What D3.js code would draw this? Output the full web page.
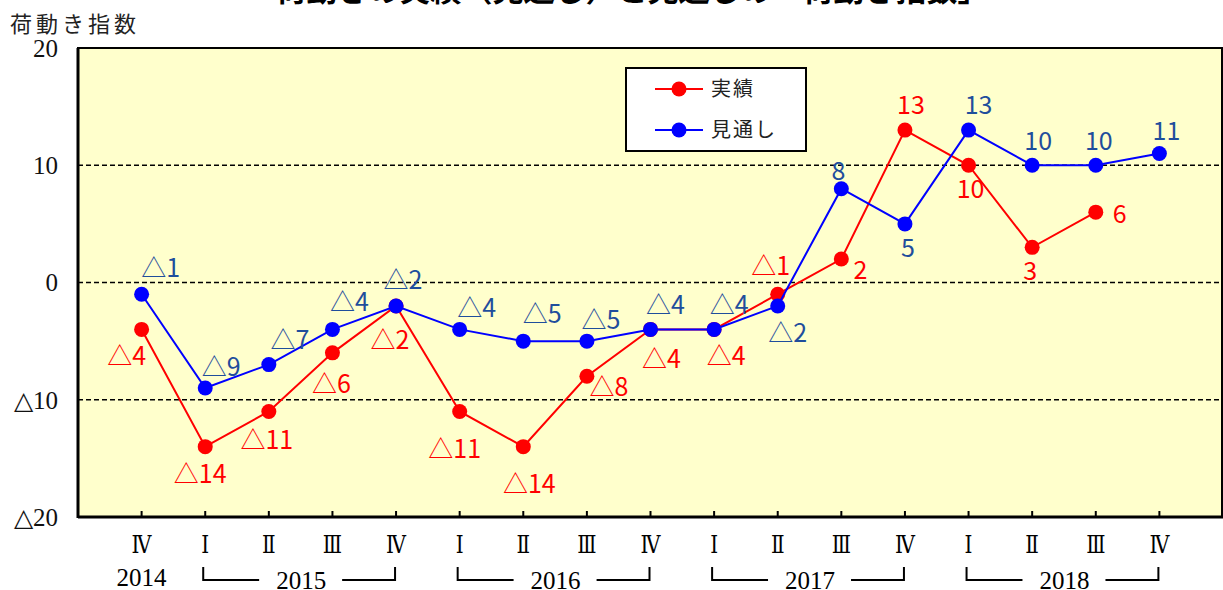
<!DOCTYPE html>
<html><head><meta charset="utf-8">
<script src="https://cdn.jsdelivr.net/npm/d3@7"></script>
<style>body{margin:0;background:#fff}svg{display:block}</style>
</head><body>
<svg id="c" width="1223" height="590"></svg>
<script>
const title = "荷動きの実績（見通し）と見通しの「荷動き指数」";
const yTitle = "荷動き指数";
const quarters = ["Ⅳ","Ⅰ","Ⅱ","Ⅲ","Ⅳ","Ⅰ","Ⅱ","Ⅲ","Ⅳ","Ⅰ","Ⅱ","Ⅲ","Ⅳ","Ⅰ","Ⅱ","Ⅲ","Ⅳ"];
const years = ["2014","2015","2016","2017","2018"];
const actual = [-4,-14,-11,-6,-2,-11,-14,-8,-4,-4,-1,2,13,10,3,6,null];
const outlook = [-1,-9,-7,-4,-2,-4,-5,-5,-4,-4,-2,8,5,13,10,10,11];
const yTicks = [20,10,0,-10,-20];
const seriesNames = ["実績","見通し"];

// layout: label offsets (px) relative to the point
const actOff = [[-15,27],[-5,27],[-2,29],[-1,31],[-6,34],[-5,38],[6,37],[22,11],[11,30],[12,27],[-7,-28],[19,11],[6,-25],[2,24],[-2,24],[24,2]];
const outOff = [[19,-26],[16,-21],[21,-25],[17,-27],[7,-26],[17,-21],[19,-27],[14,-21],[15,-24],[15,-24],[10,27],[-3,-18],[3,24],[10,-25],[6,-24],[3,-24],[7,-23]];

const svg = d3.select("#c");
const L = 78, R = 1223, T = 48, B = 517;
const idx = d3.range(quarters.length);
const x = d3.scalePoint().domain(idx).range([L, R]).padding(1);
const y = d3.scaleLinear().domain([-20, 20]).range([B, T]);
const fmt = v => v < 0 ? "△" + Math.abs(v) : String(v);
const serif = "'Liberation Serif','DejaVu Serif',serif";

svg.append("rect").attr("x", L).attr("y", T).attr("width", R - L).attr("height", B - T).attr("fill", "#ffffcc");

// gridlines
svg.append("g").selectAll("line").data([10, 0, -10]).join("line")
  .attr("x1", L).attr("x2", R).attr("y1", d => y(d)).attr("y2", d => y(d))
  .attr("stroke", "#000").attr("stroke-width", 1.6).attr("stroke-dasharray", "5,3");

// frame
svg.append("rect").attr("x", L).attr("y", T).attr("width", R - L - 1).attr("height", B - T)
  .attr("fill", "none").attr("stroke", "#000").attr("stroke-width", 2);
svg.append("line").attr("x1", L).attr("x2", L).attr("y1", T).attr("y2", B + 1).attr("stroke", "#000").attr("stroke-width", 3);
svg.append("line").attr("x1", L).attr("x2", R).attr("y1", B).attr("y2", B).attr("stroke", "#000").attr("stroke-width", 3);

// x ticks (inward)
svg.append("g").selectAll("line").data(idx).join("line")
  .attr("x1", d => x(d)).attr("x2", d => x(d)).attr("y1", B).attr("y2", B - 6)
  .attr("stroke", "#000").attr("stroke-width", 2);

// y tick labels
const yt = svg.append("g").selectAll("text").data(yTicks).join("text")
  .attr("x", 58).attr("y", d => y(d)).attr("dy", "0.35em").attr("text-anchor", "end")
  .attr("font-family", serif).attr("font-size", 25).attr("fill", "#111");
yt.append("tspan").attr("font-family", "'DejaVu Sans',sans-serif").attr("font-weight", 200).attr("font-size", 25)
  .text(d => d < 0 ? "△" : "");
yt.append("tspan").text(d => String(Math.abs(d)));

// y title
svg.append("text").attr("x", 10).attr("y", 32).attr("font-family", "'Noto Sans CJK JP',sans-serif")
  .attr("font-size", 22).attr("letter-spacing", 4).attr("fill", "#222").text(yTitle);

// title (clipped at top)
svg.append("text").attr("x", 632).attr("y", 1).attr("text-anchor", "middle")
  .attr("font-family", "'Noto Sans CJK JP',sans-serif").attr("font-weight", "bold")
  .attr("font-size", 31).text(title);

// quarter labels
svg.append("g").selectAll("text").data(idx).join("text")
  .attr("x", d => x(d)).attr("y", 553).attr("text-anchor", "middle")
  .attr("font-family", "'DejaVu Serif','Liberation Serif',serif").attr("font-size", 25)
  .attr("transform", d => `translate(${x(d)},0) scale(0.8,1) translate(${-x(d)},0)`)
  .text(d => quarters[d]);

// year labels with brackets
svg.append("text").attr("x", x(0)).attr("y", 586).attr("text-anchor", "middle")
  .attr("font-family", serif).attr("font-size", 25).text(years[0]);
years.slice(1).forEach((yr, k) => {
  const i0 = 1 + k * 4, i1 = i0 + 3;
  const x0 = x(i0) - 2, x1 = x(i1) - 1, xm = (x0 + x1) / 2;
  const g = svg.append("g");
  g.append("path").attr("d", `M${x0},567V580H${xm - 40}M${xm + 43},580H${x1}V567`)
    .attr("fill", "none").attr("stroke", "#000").attr("stroke-width", 2);
  g.append("text").attr("x", xm + 2).attr("y", 589).attr("text-anchor", "middle")
    .attr("font-family", serif).attr("font-size", 25).text(yr);
});

function drawSeries(vals, color) {
  const pts = vals.map((v, i) => ({ v, i })).filter(d => d.v !== null);
  svg.append("path").datum(pts)
    .attr("d", d3.line().x(d => x(d.i)).y(d => y(d.v)))
    .attr("fill", "none").attr("stroke", color).attr("stroke-width", 2);
  svg.append("g").selectAll("circle").data(pts).join("circle")
    .attr("cx", d => x(d.i)).attr("cy", d => y(d.v)).attr("r", 7.5).attr("fill", color);
  return pts;
}
const aPts = drawSeries(actual, "#ff0000");
const oPts = drawSeries(outlook, "#0000ff");

function labels(pts, off, color) {
  svg.append("g").selectAll("text").data(pts).join("text")
    .attr("x", d => x(d.i) + off[d.i][0]).attr("y", d => y(d.v) + off[d.i][1])
    .attr("dy", "0.36em").attr("text-anchor", "middle")
    .attr("font-family", "'Liberation Sans Narrow','Noto Sans CJK JP',sans-serif")
    .attr("font-size", 25).attr("fill", color)
    .text(d => fmt(d.v));
}
labels(aPts, actOff, "#ff0000");
labels(oPts, outOff, "#1f4e9c");

// legend
const lg = svg.append("g");
lg.append("rect").attr("x", 626).attr("y", 68).attr("width", 180).attr("height", 83)
  .attr("fill", "#fff").attr("stroke", "#000").attr("stroke-width", 2);
[["#ff0000", 89], ["#0000ff", 130]].forEach(([c, yy], k) => {
  lg.append("line").attr("x1", 655).attr("x2", 703).attr("y1", yy).attr("y2", yy).attr("stroke", c).attr("stroke-width", 2);
  lg.append("circle").attr("cx", 679).attr("cy", yy).attr("r", 7.5).attr("fill", c);
  lg.append("text").attr("x", 711).attr("y", yy).attr("dy", "0.36em")
    .attr("font-family", "'Noto Sans CJK JP',sans-serif").attr("font-size", 20).attr("letter-spacing", 2)
    .attr("fill", "#222").text(seriesNames[k]);
});
</script>
</body></html>
